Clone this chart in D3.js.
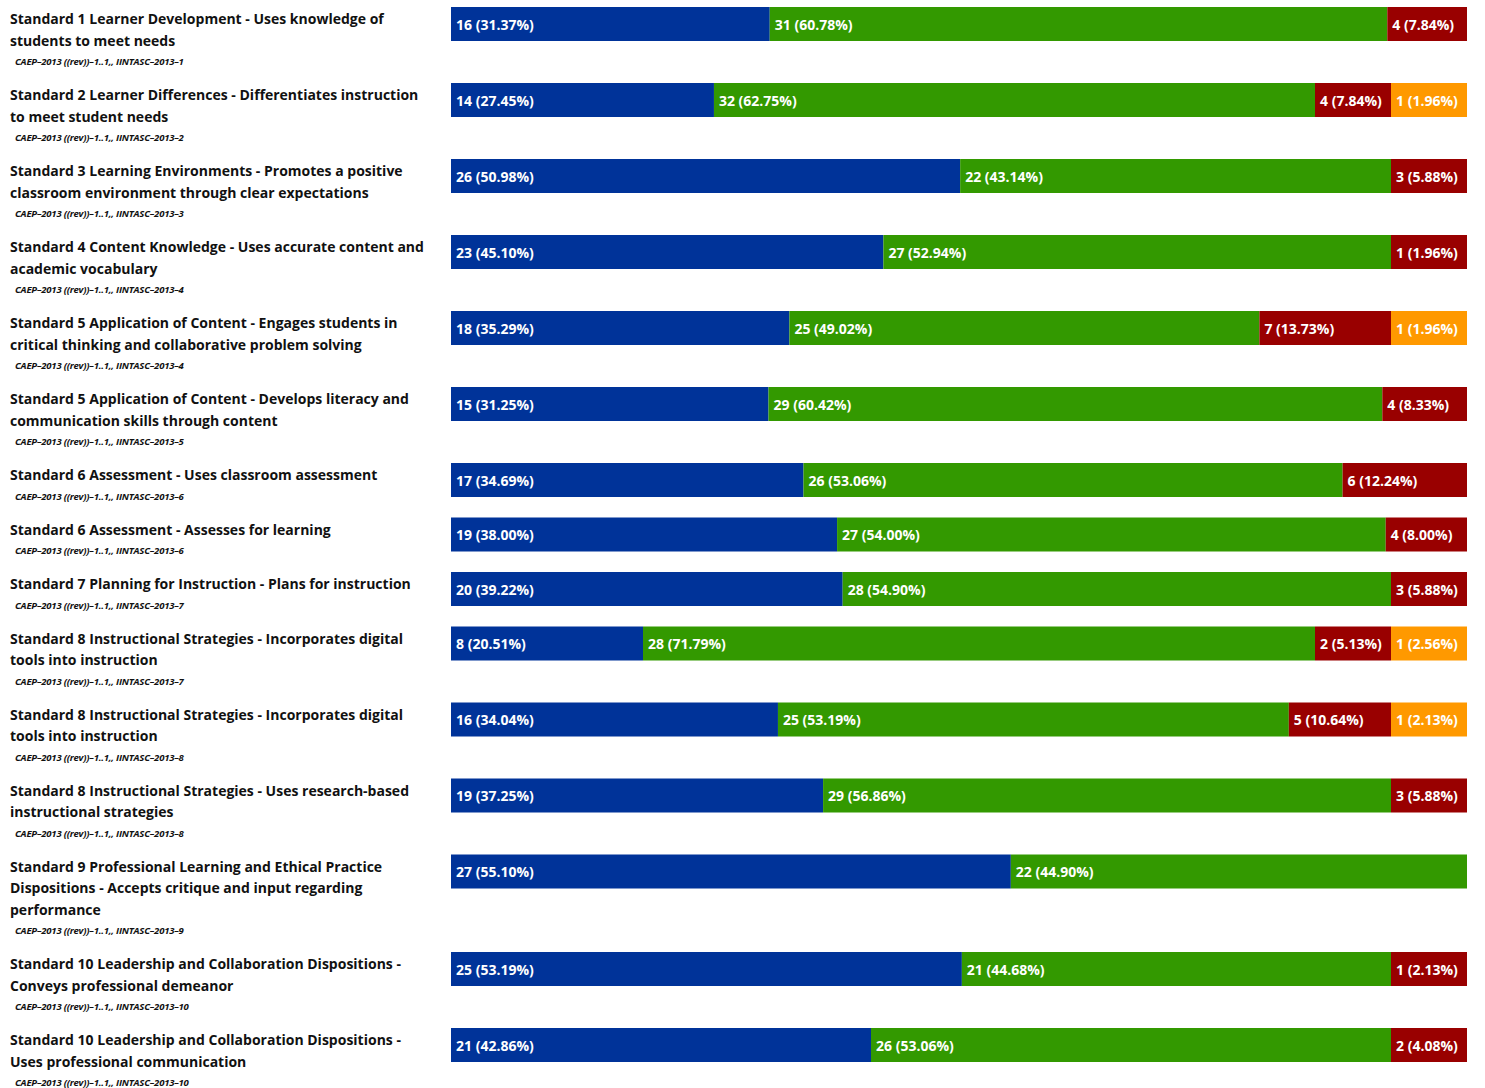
<!DOCTYPE html>
<html>
<head>
<meta charset="utf-8">
<script src="https://cdn.jsdelivr.net/npm/d3@7"></script>
<style>
  body { margin: 0; background: #fff; font-family: "Open Sans", sans-serif; }
</style>
</head>
<body>
<script>
// label lines as shown in the report
const labels = [
    ["Standard 1 Learner Development - Uses knowledge of", "students to meet needs"],
    ["Standard 2 Learner Differences - Differentiates instruction", "to meet student needs"],
    ["Standard 3 Learning Environments - Promotes a positive", "classroom environment through clear expectations"],
    ["Standard 4 Content Knowledge - Uses accurate content and", "academic vocabulary"],
    ["Standard 5 Application of Content - Engages students in", "critical thinking and collaborative problem solving"],
    ["Standard 5 Application of Content - Develops literacy and", "communication skills through content"],
    ["Standard 6 Assessment - Uses classroom assessment"],
    ["Standard 6 Assessment - Assesses for learning"],
    ["Standard 7 Planning for Instruction - Plans for instruction"],
    ["Standard 8 Instructional Strategies - Incorporates digital", "tools into instruction"],
    ["Standard 8 Instructional Strategies - Incorporates digital", "tools into instruction"],
    ["Standard 8 Instructional Strategies - Uses research-based", "instructional strategies"],
    ["Standard 9 Professional Learning and Ethical Practice", "Dispositions - Accepts critique and input regarding", "performance"],
    ["Standard 10 Leadership and Collaboration Dispositions -", "Conveys professional demeanor"],
    ["Standard 10 Leadership and Collaboration Dispositions -", "Uses professional communication"]
];

const codes = [
    "CAEP–2013 ((rev))–1..1,, IINTASC–2013–1",
    "CAEP–2013 ((rev))–1..1,, IINTASC–2013–2",
    "CAEP–2013 ((rev))–1..1,, IINTASC–2013–3",
    "CAEP–2013 ((rev))–1..1,, IINTASC–2013–4",
    "CAEP–2013 ((rev))–1..1,, IINTASC–2013–4",
    "CAEP–2013 ((rev))–1..1,, IINTASC–2013–5",
    "CAEP–2013 ((rev))–1..1,, IINTASC–2013–6",
    "CAEP–2013 ((rev))–1..1,, IINTASC–2013–6",
    "CAEP–2013 ((rev))–1..1,, IINTASC–2013–7",
    "CAEP–2013 ((rev))–1..1,, IINTASC–2013–7",
    "CAEP–2013 ((rev))–1..1,, IINTASC–2013–8",
    "CAEP–2013 ((rev))–1..1,, IINTASC–2013–8",
    "CAEP–2013 ((rev))–1..1,, IINTASC–2013–9",
    "CAEP–2013 ((rev))–1..1,, IINTASC–2013–10",
    "CAEP–2013 ((rev))–1..1,, IINTASC–2013–10"
];

// counts per rating level
const level1 = [16, 14, 26, 23, 18, 15, 17, 19, 20, 8, 16, 19, 27, 25, 21];
const level2 = [31, 32, 22, 27, 25, 29, 26, 27, 28, 28, 25, 29, 22, 21, 26];
const level3 = [4, 4, 3, 1, 7, 4, 6, 4, 3, 2, 5, 3, 0, 1, 2];
const level4 = [0, 1, 0, 0, 1, 0, 0, 0, 0, 1, 1, 0, 0, 0, 0];

const colors = ["#003399", "#339900", "#990000", "#ff9900"];

const barX0 = 451, barX1 = 1467, barH = 34, minSeg = 76;
const lineH = 21.5;

const svg = d3.select("body").append("svg")
    .attr("width", 1485)
    .attr("height", 1088);

// rows stack down the page, height depends on label lines
let y = 7;
const rows = labels.map((lines, i) => {
    const vals = [level1[i], level2[i], level3[i], level4[i]];
    const r = { lines, code: codes[i], vals, top: y };
    y += lines.length * lineH + 33;
    return r;
});

// small segments get a minimum width so their label fits
function segmentWidths(vals) {
    const span = barX1 - barX0;
    let fixed = vals.map(() => false);
    let changed = true;
    while (changed) {
        changed = false;
        const freeTotal = d3.sum(vals.filter((v, k) => !fixed[k]));
        const freeSpan = span - minSeg * fixed.filter(f => f).length;
        const x = d3.scaleLinear().domain([0, freeTotal]).range([0, freeSpan]);
        vals.forEach((v, k) => {
            if (!fixed[k] && v > 0 && x(v) < minSeg) { fixed[k] = true; changed = true; }
        });
        if (!changed) {
            return vals.map((v, k) => v === 0 ? 0 : fixed[k] ? minSeg : x(v));
        }
    }
}

const row = svg.selectAll(".row")
    .data(rows)
    .enter().append("g")
    .attr("class", "row")
    .attr("transform", d => "translate(0," + d.top + ")");

// label text
row.each(function (d) {
    const g = d3.select(this);
    d.lines.forEach((t, k) => {
        g.append("text")
            .attr("x", 10)
            .attr("y", 17 + k * lineH)
            .style("font-size", "14px")
            .style("font-weight", 700)
            .style("fill", "#111")
            .text(t);
    });
    g.append("text")
        .attr("x", 15)
        .attr("y", 17 + (d.lines.length - 1) * lineH + 19.5)
        .style("font-size", "9.5px")
        .style("font-weight", 700)
        .style("font-style", "italic")
        .style("letter-spacing", "-0.2px")
        .style("fill", "#111")
        .text(d.code);
});

// stacked segments
row.each(function (d) {
    const g = d3.select(this);
    const total = d3.sum(d.vals);
    const widths = segmentWidths(d.vals);
    let x = barX0;
    d.vals.forEach((v, k) => {
        if (v === 0) return;
        g.append("rect")
            .attr("x", x)
            .attr("y", 0)
            .attr("width", widths[k])
            .attr("height", barH)
            .style("fill", colors[k]);
        g.append("text")
            .attr("x", x + 5)
            .attr("y", barH / 2)
            .attr("dy", ".4em")
            .style("font-size", "14px")
            .style("font-weight", 700)
            .style("fill", "#fff")
            .text(v + " (" + (v / total * 100).toFixed(2) + "%)");
        x += widths[k];
    });
});
</script>
</body>
</html>
